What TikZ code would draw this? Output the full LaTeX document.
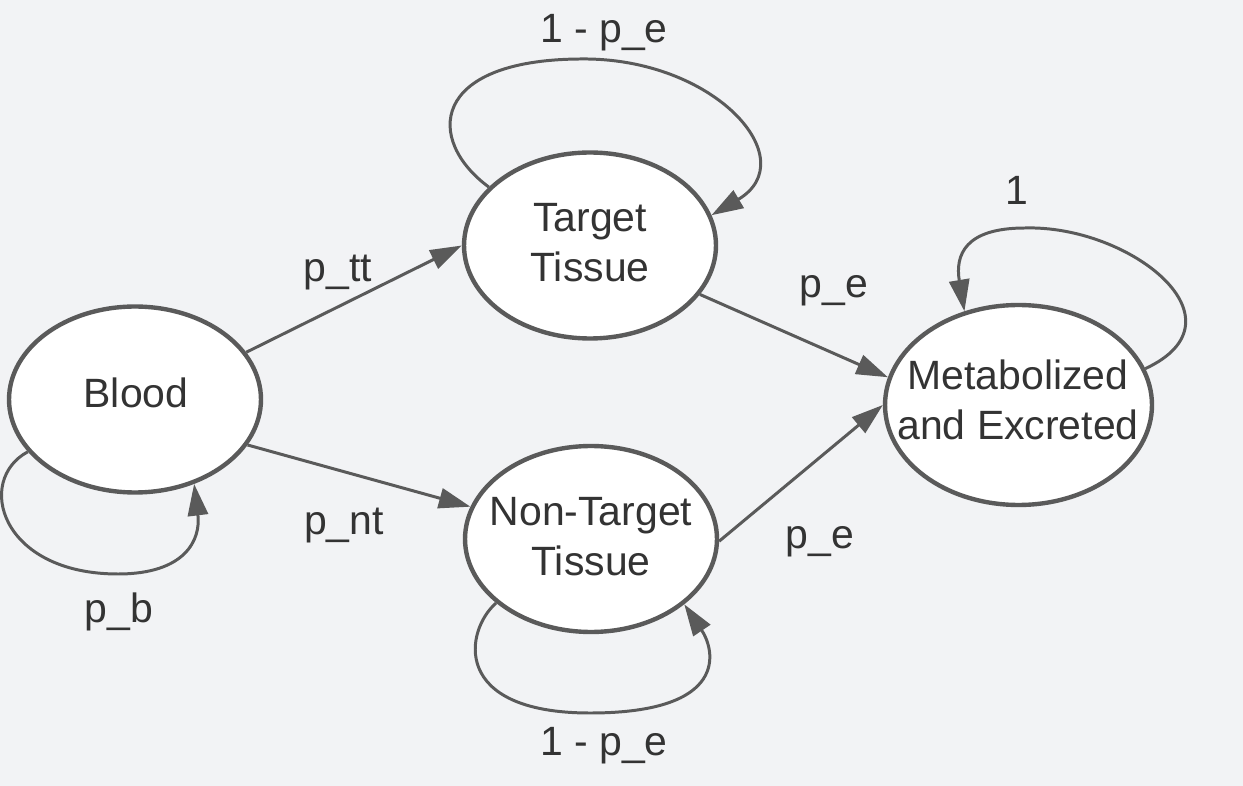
\documentclass[tikz,border=0pt]{standalone}
\usepackage{fontspec}
\setmainfont{Liberation Sans}
\usetikzlibrary{shapes.geometric,arrows.meta}
\definecolor{bg}{RGB}{242,243,245}
\definecolor{ln}{RGB}{90,90,90}
\definecolor{tx}{RGB}{51,51,51}
\begin{document}
\begin{tikzpicture}[x=0.02cm,y=-0.02cm,
  state/.style={ellipse,draw=ln,line width=2.5pt,fill=white,inner sep=0pt,
    minimum width=5.04cm,minimum height=3.72cm},
  txt/.style={text=tx,align=center,inner sep=0pt,
    font=\fontsize{23.3pt}{28.5pt}\selectfont},
  lbl/.style={text=tx,inner sep=0pt,anchor=base,
    font=\fontsize{23.3pt}{28.5pt}\selectfont},
  conn/.style={draw=ln,line width=1.7pt,
    -{Triangle[length=18pt,width=11.5pt]}}]
\useasboundingbox (0,0) rectangle (1243,786);
\fill[bg] (0,0) rectangle (1243,786);
% states
\node[state] (blood) at (135,399.5) {};
\node[state] (target) at (590,245.5) {};
\node[state] (nontarget) at (591,539) {};
\node[state,minimum width=5.34cm,minimum height=4.0cm] (metab) at (1018.5,405) {};
% state texts
\node[txt] (tblood) at (136,393) {Blood};
\node[txt] (ttarget) at (590,242.5) {Target\\Tissue};
\node[txt] (tnontarget) at (591,536.5) {Non-Target\\Tissue};
\node[txt] (tmetab) at (1018,400) {Metabolized\\and Excreted};
% straight transitions
\draw[conn] (blood.23) -- (target.180);
\draw[conn] (blood.-22.8) -- (nontarget.165.6);
\draw[conn] (target.-24.2) -- (metab.168.8);
\draw[conn] (nontarget.-1.4) -- (metab.180);
% self loops
\draw[conn] (target.150.8) .. controls (425,140) and (430,60) .. (580,59)
  .. controls (715,57) and (805,160) .. (target.14.8);
\draw[conn] (blood.206.6) .. controls (-25,480) and (0,574) .. (118,574)
  .. controls (185,574) and (201,540) .. (blood.305.3);
\draw[conn] (metab.16.6) .. controls (1250,320) and (1130,225) .. (1025,228)
  .. controls (965,228) and (955,255) .. (metab.120.3);
\draw[conn] (nontarget.214.5) .. controls (465,630) and (450,713) .. (590,713)
  .. controls (730,713) and (715,650) .. (nontarget.325.5);
% labels
\node[lbl] (lptt) at (338,282) {p\_tt};
\node[lbl] (lpnt) at (344,535) {p\_nt};
\node[lbl] (lpe1) at (834,298) {p\_e};
\node[lbl] (lpe2) at (820,548) {p\_e};
\node[lbl] (lloopt) at (604,43) {1 - p\_e};
\node[lbl] (lloopn) at (604,755) {1 - p\_e};
\node[lbl] (lpb) at (119,622) {p\_b};
\node[lbl] (lone) at (1017,205) {1};
\end{tikzpicture}
\end{document}
